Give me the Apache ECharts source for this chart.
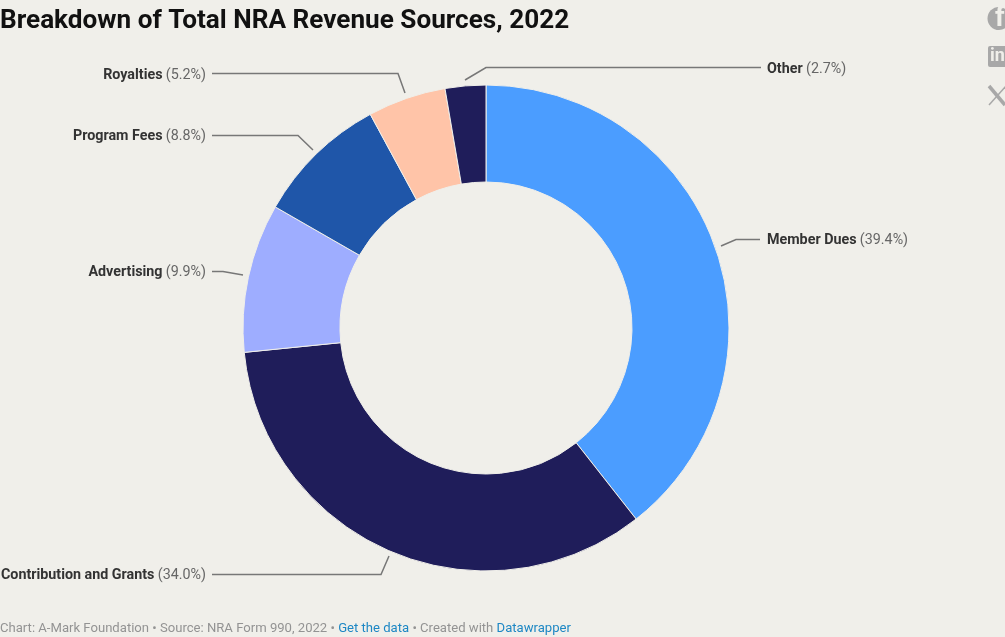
<!DOCTYPE html>
<html><head><meta charset="utf-8">
<style>html,body{margin:0;padding:0;background:#f0efea}#c{width:1005px;height:637px}</style>
<script src="https://cdn.jsdelivr.net/npm/echarts@6/dist/echarts.min.js"></script>
</head><body><div id="c"></div>
<script>
const categories = ["Member Dues","Contribution and Grants","Advertising","Program Fees","Royalties","Other"];
const values = [39.4,34.0,9.9,8.8,5.2,2.7];
const colors = ["#4b9dff","#1f1d5a","#9eadff","#1f56a9","#ffc4a8","#1f1d5a"];
const titleText = "Breakdown of Total NRA Revenue Sources, 2022";

const labelSpots = [
  {x:767,y:240.5,align:"left", line:[[721,246],[736,239.5],[760,239.5]]},
  {x:206,y:575.5,align:"right",line:[[389,556],[381,574.5],[212,574.5]]},
  {x:206,y:272.5,align:"right",line:[[243,275],[223,271.5],[212,271.5]]},
  {x:206,y:136.5,align:"right",line:[[313,150],[298,135.5],[212,135.5]]},
  {x:206,y:75.5, align:"right",line:[[405,93],[398,73.5],[212,73.5]]},
  {x:767,y:69, align:"left", line:[[465,80],[486,67.5],[761,67.5]]}
];
const chart = echarts.init(document.getElementById('c'));
const font = "Roboto";
const iconGrey = "#a8a8a8", bg = "#f0efea";
chart.setOption({
  backgroundColor: bg,
  animation:false,
  title:[
    {text:titleText,left:0,top:8,padding:0,textStyle:{fontFamily:font,fontSize:26.15,fontWeight:700,color:"#111"}},
    {text:"{g|Chart: A-Mark Foundation • Source: NRA Form 990, 2022 • }{b|Get the data}{g| • Created with }{b|Datawrapper}",
     left:0,top:622,padding:0,
     textStyle:{fontWeight:400,rich:{g:{fontFamily:font,fontSize:13.1,fontWeight:400,color:"#939393"},b:{fontFamily:font,fontSize:13.1,fontWeight:400,color:"#1d87c4"}}}}
  ],
  series:[{
    type:"pie",
    center:[486,328],
    radius:[146,243],
    startAngle:90,
    clockwise:true,
    silent:true,
    data:categories.map((n,i)=>({name:n,value:values[i],itemStyle:{color:colors[i]}})),
    itemStyle:{borderColor:bg,borderWidth:1},
    label:{show:true,position:"outside",
      formatter:p=>`{n|${p.name}} {v|(${p.value.toFixed(1)}%)}`,
      rich:{n:{fontFamily:font,fontSize:14.3,fontWeight:700,color:"#333"},
            v:{fontFamily:font,fontSize:14.3,color:"#666"}}},
    labelLine:{show:true,lineStyle:{color:"#777",width:1.5}},
    labelLayout:p=>{const s=labelSpots[p.dataIndex];
      return {x:s.x,y:s.y,align:s.align,verticalAlign:"middle",hideOverlap:false,labelLinePoints:s.line};}
  }],
  graphic:[
    {type:"circle",shape:{cx:999,cy:18.5,r:11.5},style:{fill:iconGrey}},
    {type:"text",x:995,y:6,style:{text:"f",fontFamily:"Roboto",fontWeight:700,fontSize:27,fill:bg}},
    {type:"rect",shape:{x:988,y:46,width:24,height:21,r:2},style:{fill:iconGrey}},
    {type:"text",x:990,y:47,style:{text:"in",fontFamily:"Roboto",fontWeight:700,fontSize:18,fill:bg}},
    {type:"line",shape:{x1:989,y1:86,x2:1005,y2:105},style:{stroke:iconGrey,lineWidth:3.5}},
    {type:"line",shape:{x1:989,y1:105,x2:1006,y2:86},style:{stroke:iconGrey,lineWidth:1.5}}
  ]
});
</script></body></html>
